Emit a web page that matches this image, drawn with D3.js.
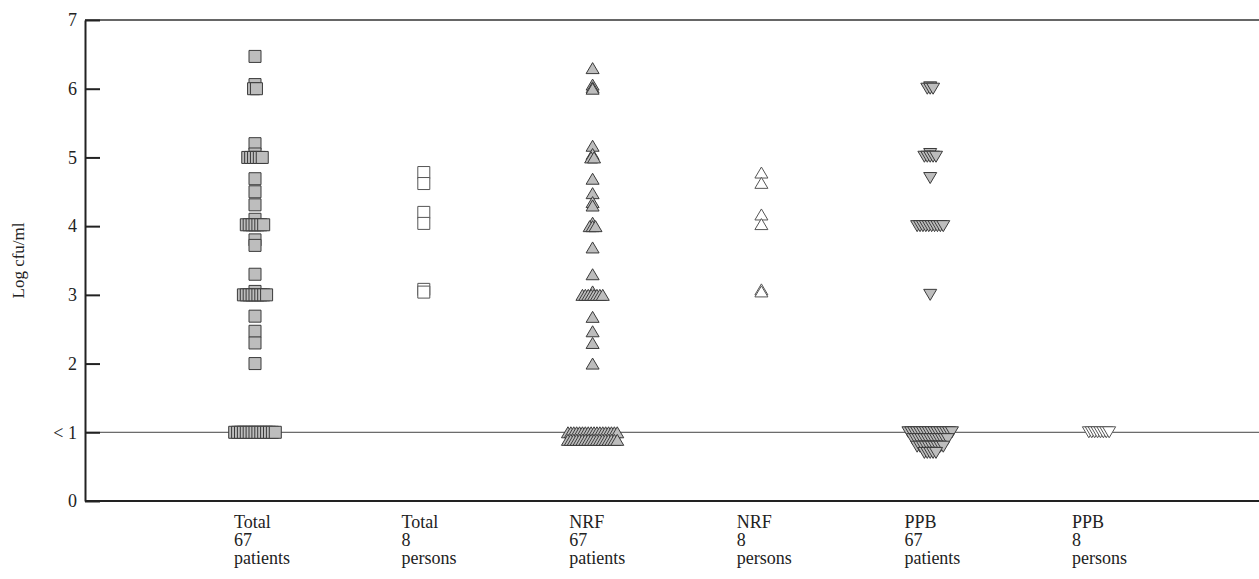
<!DOCTYPE html>
<html>
<head>
<meta charset="utf-8">
<script src="https://cdn.jsdelivr.net/npm/d3@7"></script>
<style>
  body { margin: 0; background: #fff; }
  text { font-family: "Liberation Serif", "Times New Roman", serif; fill: #222; }
</style>
</head>
<body>
<div id="chart"></div>
<script>
/* Log cfu/ml scatter per group */

const width = 1259, height = 579,
    margin = ({ top: 20, right: -9, bottom: 78, left: 85 });

// category labels (three lines each)
const groupNames = ["Total", "Total", "NRF", "NRF", "PPB", "PPB"];
const groupCounts = ["67", "8", "67", "8", "67", "8"];
const groupUnits = ["patients", "persons", "patients", "persons", "patients", "persons"];

// y ticks
const yTicks = [0, 1, 2, 3, 4, 5, 6, 7];
const yTickLabels = ["0", "< 1", "2", "3", "4", "5", "6", "7"];

// values (1 = "< 1"; lower rows of the < 1 pile stacked below)
const totalPatients = [6.47, 6.06, 6.0, 6.0, 5.2, 5.05, 5.0, 5.0, 5.0, 5.0, 5.0, 5.0,
    4.69, 4.5, 4.31, 4.1, 4.02, 4.02, 4.02, 4.02, 4.02, 4.02, 4.02, 3.8, 3.72, 3.3,
    3.05, 3.0, 3.0, 3.0, 3.0, 3.0, 3.0, 3.0, 3.0, 3.0, 2.69, 2.47, 2.3, 2.0,
    1, 1, 1, 1, 1, 1, 1, 1, 1, 1, 1, 1, 1, 1, 1];
const totalPersons = [4.78, 4.62, 4.2, 4.04, 3.08, 3.04];
const nrfPatients = [6.3, 6.06, 6.02, 6.0, 5.17, 5.05, 5.0, 5.0, 4.69, 4.48, 4.35, 4.3,
    4.05, 4.0, 4.0, 4.0, 3.69, 3.3, 3.05, 3.0, 3.0, 3.0, 3.0, 3.0, 3.0, 3.0, 3.0,
    2.68, 2.47, 2.3, 2.0,
    1, 1, 1, 1, 1, 1, 1, 1, 1, 1, 1, 1, 1, 1, 1, 1, 1, 1,
    0.89, 0.89, 0.89, 0.89, 0.89, 0.89, 0.89, 0.89, 0.89, 0.89, 0.89, 0.89, 0.89, 0.89, 0.89, 0.89, 0.89, 0.89];
const nrfPersons = [4.78, 4.63, 4.17, 4.03, 3.08, 3.05];
const ppbPatients = [6.02, 6.0, 6.0, 6.0, 5.05, 5.01, 5.01, 5.01, 5.01, 5.01, 4.7,
    4.0, 4.0, 4.0, 4.0, 4.0, 4.0, 4.0, 4.0, 4.0, 4.0, 3.0,
    1, 1, 1, 1, 1, 1, 1, 1, 1, 1, 1, 1, 1, 1, 1, 1,
    0.9, 0.9, 0.9, 0.9, 0.9, 0.9, 0.9, 0.9, 0.9, 0.9, 0.9, 0.9, 0.9,
    0.79, 0.79, 0.79, 0.79, 0.79, 0.79, 0.79, 0.79, 0.79, 0.79,
    0.7, 0.7, 0.7, 0.7, 0.7];
const ppbPersons = [1, 1, 1, 1, 1, 1, 1, 1];

const groupValues = [totalPatients, totalPersons, nrfPatients, nrfPersons, ppbPatients, ppbPersons];
const groupShapes = ["square", "square", "up", "up", "down", "down"];
const groupFilled = [true, false, true, false, true, false];

const svg = d3.select("#chart")
    .append("svg")
    .attr("width", width)
    .attr("height", height);

const cats = d3.range(groupNames.length);

let x = d3.scalePoint()
    .domain(cats)
    .range([255, 1099]);

let xLabel = d3.scalePoint()
    .domain(cats)
    .range([234, 1072]);

let y = d3.scaleLinear()
    .domain([0, 7])
    .range([height - margin.bottom, margin.top]);

const right = width - margin.right;

// frame: top and bottom lines run off the right edge
svg.append("line")
    .attr("x1", margin.left).attr("x2", right)
    .attr("y1", y(7)).attr("y2", y(7))
    .attr("stroke", "#333").attr("stroke-width", 1.5);
svg.append("line")
    .attr("x1", margin.left).attr("x2", right)
    .attr("y1", y(0)).attr("y2", y(0))
    .attr("stroke", "#222").attr("stroke-width", 2);

// the "< 1" reference line
svg.append("line")
    .attr("x1", margin.left).attr("x2", right)
    .attr("y1", y(1)).attr("y2", y(1))
    .attr("stroke", "#444").attr("stroke-width", 1);

// y axis, ticks point inward
const yAxis = svg.append("g")
    .attr("class", "y-axis")
    .attr("transform", `translate(${margin.left},0)`)
    .call(d3.axisLeft(y)
        .tickValues(yTicks)
        .tickFormat((d, i) => yTickLabels[i])
        .tickSize(-15)
        .tickSizeOuter(0)
        .tickPadding(8));
yAxis.select(".domain").attr("stroke", "#222").attr("stroke-width", 2);
yAxis.selectAll(".tick line").attr("stroke", "#222").attr("stroke-width", 2);
yAxis.selectAll(".tick text")
    .attr("font-family", "Liberation Serif, serif")
    .attr("font-size", 18)
    .attr("fill", "#222");

// y label
svg.append("text")
    .attr("transform", `translate(24,${y(3.5)}) rotate(-90)`)
    .attr("text-anchor", "middle")
    .attr("font-size", 17)
    .text("Log cfu/ml");

// category labels
const labels = svg.append("g").selectAll("text")
    .data(cats)
    .join("text")
    .attr("x", d => xLabel(d))
    .attr("y", height - 51)
    .attr("font-size", 18);
labels.append("tspan").attr("x", d => xLabel(d)).text(d => groupNames[d]);
labels.append("tspan").attr("x", d => xLabel(d)).attr("dy", 18).text(d => groupCounts[d]);
labels.append("tspan").attr("x", d => xLabel(d)).attr("dy", 18).text(d => groupUnits[d]);

// spread markers that share a value side by side
const step = 2.9;
function spread(values) {
    const counts = d3.rollup(values, v => v.length, d => d);
    const seen = new Map();
    return values.map(v => {
        const n = counts.get(v), i = seen.get(v) || 0;
        seen.set(v, i + 1);
        return { v, off: (i - (n - 1) / 2) * step };
    });
}

const sq = 12, tw = 13, th = 11;
function markerPath(shape, cx, cy) {
    if (shape === "square") {
        return `M${cx - sq / 2},${cy - sq / 2}h${sq}v${sq}h${-sq}Z`;
    }
    if (shape === "up") {
        return `M${cx - tw / 2},${cy + th / 2}L${cx},${cy - th / 2}L${cx + tw / 2},${cy + th / 2}Z`;
    }
    return `M${cx - tw / 2},${cy - th / 2}L${cx + tw / 2},${cy - th / 2}L${cx},${cy + th / 2}Z`;
}

cats.forEach(c => {
    const pts = spread(groupValues[c]);
    svg.append("g")
        .selectAll("path")
        .data(pts)
        .join("path")
        .attr("d", d => markerPath(groupShapes[c], x(c) + d.off, y(d.v)))
        .attr("fill", groupFilled[c] ? "#bdbdbd" : "#fff")
        .attr("stroke", groupFilled[c] ? "#3a3a3a" : "#555")
        .attr("stroke-width", 1);
});
</script>
</body>
</html>
